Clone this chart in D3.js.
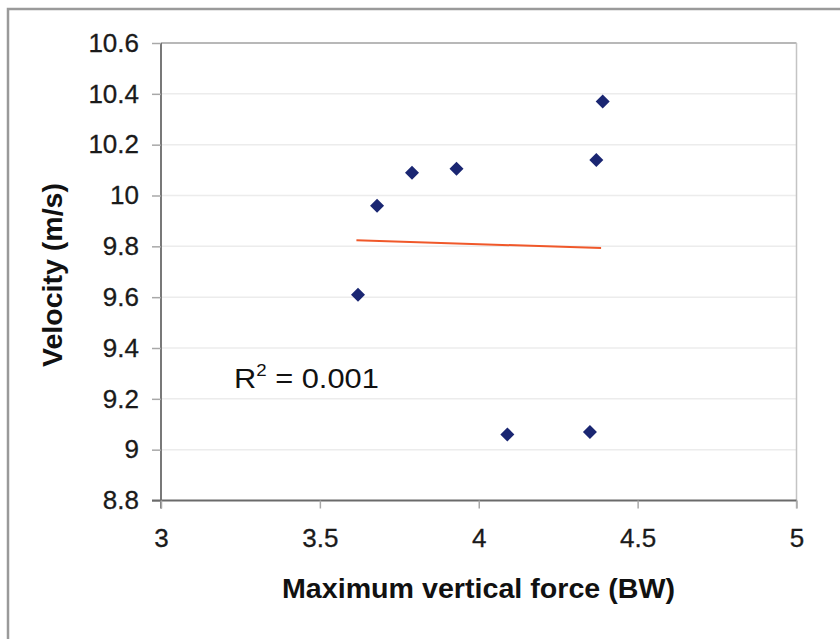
<!DOCTYPE html>
<html><head><meta charset="utf-8">
<script src="https://cdn.jsdelivr.net/npm/d3@7"></script>
<style>html,body{margin:0;padding:0;background:#fff;}svg{display:block;}</style>
</head><body>
<svg id="c" width="840" height="639"></svg>
<script>
const forceX = [3.62, 3.68, 3.79, 3.93, 4.37, 4.39, 4.09, 4.35];
const velocityY = [9.61, 9.96, 10.09, 10.105, 10.14, 10.37, 9.06, 9.07];
const trendX = [3.615, 4.385];
const trendY = [9.824, 9.793];
const xTicks = [3, 3.5, 4, 4.5, 5];
const yTicks = [8.8, 9, 9.2, 9.4, 9.6, 9.8, 10, 10.2, 10.4, 10.6];
const xTitle = "Maximum vertical force (BW)";
const yTitle = "Velocity (m/s)";
const r2Text = "0.001";

const svg = d3.select("#c");
const font = "Liberation Sans, Arial, Helvetica, sans-serif";
// outer frame
svg.append("rect").attr("x", 8).attr("y", 9).attr("width", 900).attr("height", 700)
  .attr("fill", "none").attr("stroke", "#9a9a9a").attr("stroke-width", 2.5);

const L = 161, R = 796.5, T = 43, B = 500.5;
const x = d3.scaleLinear().domain([3, 5]).range([L, R]);
const y = d3.scaleLinear().domain([8.8, 10.6]).range([B, T]);

// gridlines
svg.append("g").selectAll("line").data(yTicks.filter(d => d > 8.8 && d < 10.6)).join("line")
  .attr("x1", L).attr("x2", R).attr("y1", d => y(d)).attr("y2", d => y(d))
  .attr("stroke", "#ececec").attr("stroke-width", 1.5);

// plot border top / right
svg.append("line").attr("x1", L).attr("x2", R).attr("y1", T).attr("y2", T).attr("stroke", "#a0a0a0").attr("stroke-width", 1.5);
svg.append("line").attr("x1", R).attr("x2", R).attr("y1", T).attr("y2", B + 8).attr("stroke", "#c4c4c4").attr("stroke-width", 1.5);

// y axis
const yAxis = d3.axisLeft(y).tickValues(yTicks).tickSize(9).tickPadding(13).tickFormat(d3.format("~g"));
const gy = svg.append("g").attr("transform", `translate(${L},0)`).call(yAxis);
gy.select(".domain").attr("stroke", "#6a6a6a").attr("stroke-width", 1.8).attr("d", `M0,${T}V${B + 8}`);
gy.selectAll(".tick line").attr("stroke", "#a8a8a8").attr("stroke-width", 1.5);
gy.selectAll(".tick text").attr("font-family", font).attr("font-size", 26).attr("fill", "#1a1a1a")
  .attr("stroke", "#1a1a1a").attr("stroke-width", 0.3);

// x axis
const xAxis = d3.axisBottom(x).tickValues(xTicks).tickSize(8).tickPadding(20).tickFormat(d3.format("~g"));
const gx = svg.append("g").attr("transform", `translate(0,${B})`).call(xAxis);
gx.select(".domain").attr("stroke", "#6a6a6a").attr("stroke-width", 1.8).attr("d", `M${L - 9},0H${R}`);
gx.selectAll(".tick line").attr("stroke", "#a8a8a8").attr("stroke-width", 1.5);
gx.selectAll(".tick text").attr("font-family", font).attr("font-size", 26).attr("fill", "#1a1a1a")
  .attr("stroke", "#1a1a1a").attr("stroke-width", 0.3);

// trend line
svg.append("line")
  .attr("x1", x(trendX[0])).attr("y1", y(trendY[0]))
  .attr("x2", x(trendX[1])).attr("y2", y(trendY[1]))
  .attr("stroke", "#f0582a").attr("stroke-width", 2);

// markers
const pts = forceX.map((v, i) => [v, velocityY[i]]);
svg.append("g").selectAll("path").data(pts).join("path")
  .attr("transform", d => `translate(${x(d[0])},${y(d[1])})`)
  .attr("d", "M0,-7L7,0L0,7L-7,0Z")
  .attr("fill", "#1a2672");

// R² text
const rt = svg.append("text").attr("transform", "translate(234,388) scale(1.1,1)")
  .attr("font-family", font).attr("font-size", 28).attr("fill", "#111");
rt.append("tspan").text("R");
rt.append("tspan").attr("dy", -12).attr("font-size", 17).text("2");
rt.append("tspan").attr("dy", 12).text(" = " + r2Text);

// axis titles
svg.append("text").attr("x", (282 + 675) / 2).attr("y", 598).attr("text-anchor", "middle")
  .attr("font-family", font).attr("font-size", 27).attr("font-weight", "bold").attr("fill", "#111")
  .attr("textLength", 393).attr("lengthAdjust", "spacingAndGlyphs").text(xTitle);
svg.append("text").attr("transform", `translate(62,${(183 + 367) / 2}) rotate(-90)`).attr("text-anchor", "middle")
  .attr("font-family", font).attr("font-size", 27).attr("font-weight", "bold").attr("fill", "#111")
  .attr("textLength", 184).attr("lengthAdjust", "spacingAndGlyphs").text(yTitle);
</script>
</body></html>
